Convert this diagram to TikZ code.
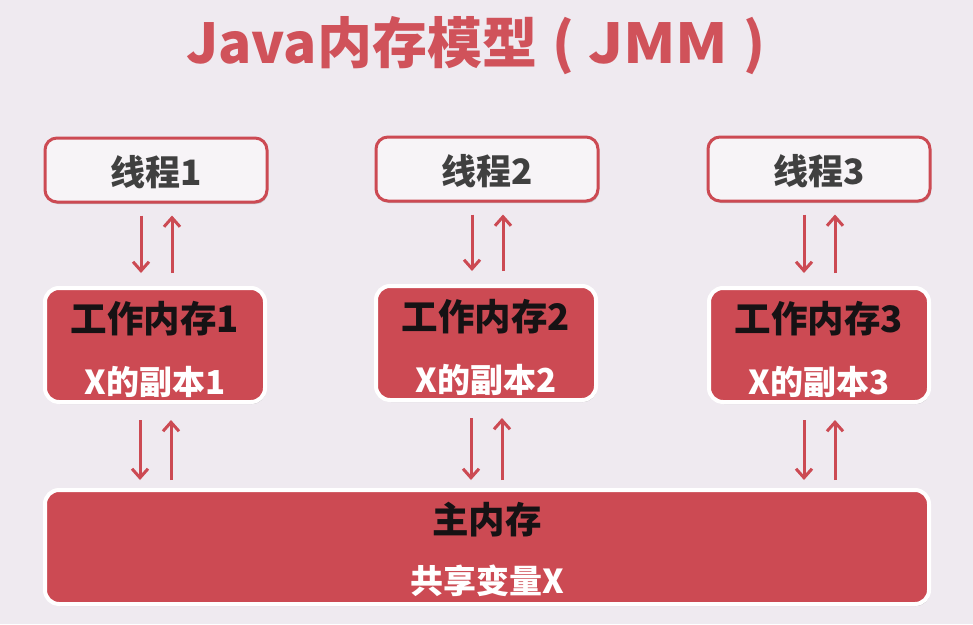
\documentclass[tikz,border=0pt]{standalone}
\usepackage{fontspec}
\usepackage{graphicx}
\newfontfamily\cjk{Noto Sans CJK SC}
\usetikzlibrary{shadows,arrows.meta}
\definecolor{bg}{RGB}{239,234,240}
\definecolor{jred}{RGB}{204,74,83}
\definecolor{tred}{RGB}{208,82,90}
\definecolor{tgray}{RGB}{64,64,64}
\definecolor{tdark}{RGB}{22,18,20}
\definecolor{boxw}{RGB}{247,244,247}
\tikzset{
  thbox/.style={draw=jred, line width=3pt, fill=boxw, rounded corners=12pt,
    minimum width=222pt, minimum height=64pt, inner sep=0pt,
    drop shadow={shadow xshift=1pt, shadow yshift=-2pt, opacity=.18, fill=black}},
  wmbox/.style={draw=white, line width=4pt, fill=jred, rounded corners=14pt,
    minimum height=114pt, inner sep=0pt,
    drop shadow={shadow xshift=1pt, shadow yshift=-2pt, opacity=.18, fill=black}},
  thtxt/.style={font=\cjk\bfseries\fontsize{35}{35}\selectfont, text=tgray},
  wmtxt/.style={font=\cjk\bfseries\fontsize{36.5}{36.5}\selectfont, text=tdark},
  cptxt/.style={font=\cjk\bfseries\fontsize{33}{33}\selectfont, text=white},
  arr/.style={draw=jred, line width=3pt, -{Straight Barb[length=9pt,width=16pt,line width=3pt]}},
}
\begin{document}
\begin{tikzpicture}[x=1pt,y=-1pt]
\fill[bg] (0,0) rectangle (973,624);
\useasboundingbox (0,0) rectangle (973,624);
\node[anchor=west, inner sep=0pt, font=\cjk\bfseries\fontsize{55}{55}\selectfont, text=tred] (title) at (186,46) {Java内存模型\hspace{15pt}(\hspace{14pt}\scalebox{1.09}[1]{JMM}\hspace{15pt})};

\node[thbox] (t1) at (156,170) {};
\node[thbox] (t2) at (487,169) {};
\node[thbox] (t3) at (819,169) {};
\node[thtxt] (t1l) at ([yshift=-2pt]t1.center) {线程1};
\node[thtxt] (t2l) at ([yshift=-2pt]t2.center) {线程2};
\node[thtxt] (t3l) at ([yshift=-2pt]t3.center) {线程3};

\node[wmbox, minimum width=220pt] (w1) at (155,345) {};
\node[wmbox, minimum width=220pt] (w2) at (486,343) {};
\node[wmbox, minimum width=220pt] (w3) at (819,345) {};
\foreach \i in {1,2,3}{
  \node[wmtxt] (w\i a) at ([yshift=26pt]w\i.center) {工作内存\i};
  \node[cptxt] (w\i b) at ([yshift=-37pt]w\i.center) {X的副本\i};
}

\node[wmbox, minimum width=884pt] (m) at (487,547) {};
\node[wmtxt] (ma) at ([yshift=27pt]m.center) {主内存};
\node[cptxt] (mb) at ([yshift=-34pt]m.center) {共享变量X};

\foreach \i in {1,2,3}{
  \draw[arr, shorten <=12pt, shorten >=13pt] ([xshift=-15pt]t\i.south) -- ([xshift=-15pt]t\i.south |- w\i.north);
  \draw[arr, shorten <=13pt, shorten >=12pt] ([xshift=16pt]t\i.south |- w\i.north) -- ([xshift=16pt]t\i.south);
  \draw[arr, shorten <=16pt, shorten >=8pt] ([xshift=-15pt]w\i.south) -- ([xshift=-15pt]w\i.south |- m.north);
  \draw[arr, shorten <=8pt, shorten >=16pt] ([xshift=16pt]w\i.south |- m.north) -- ([xshift=16pt]w\i.south);
}
\end{tikzpicture}
\end{document}
